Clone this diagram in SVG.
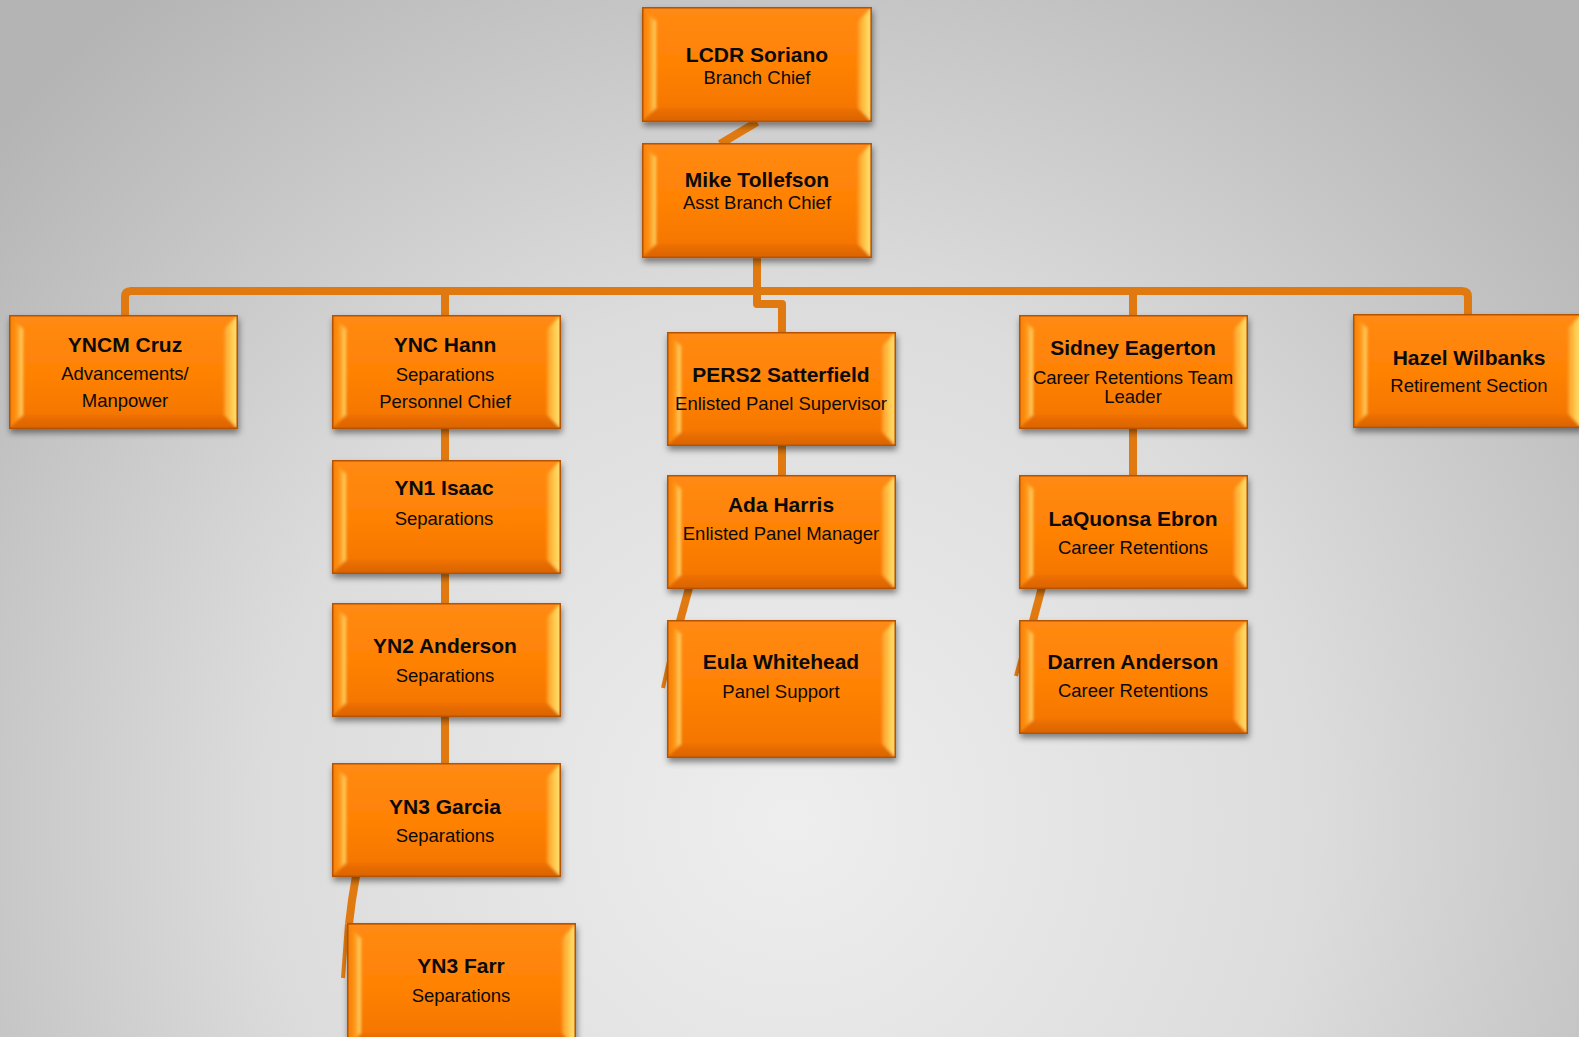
<svg xmlns="http://www.w3.org/2000/svg" xmlns:xlink="http://www.w3.org/1999/xlink" width="1579" height="1037" viewBox="0 0 1579 1037">
<defs>
<radialGradient id="bg" cx="790" cy="820" r="1050" gradientUnits="userSpaceOnUse">
<stop offset="0" stop-color="#EEEEEE"/>
<stop offset="0.5" stop-color="#DCDCDC"/>
<stop offset="1" stop-color="#B4B4B4"/>
</radialGradient>
<linearGradient id="gFace" x1="0" y1="0" x2="0" y2="1">
<stop offset="0" stop-color="#FF8A14"/>
<stop offset="0.5" stop-color="#FF8204"/>
<stop offset="1" stop-color="#F27300"/>
</linearGradient>
<linearGradient id="gLeft" x1="0" y1="0" x2="1" y2="0">
<stop offset="0" stop-color="#F57A00"/>
<stop offset="0.55" stop-color="#FF9418"/>
<stop offset="0.85" stop-color="#FFC24C"/>
<stop offset="1" stop-color="#FFDA70"/>
</linearGradient>
<linearGradient id="gRight" x1="0" y1="0" x2="1" y2="0">
<stop offset="0" stop-color="#FF9A22"/>
<stop offset="0.5" stop-color="#FFC84A"/>
<stop offset="1" stop-color="#FFE47A"/>
</linearGradient>
<linearGradient id="gBot" x1="0" y1="0" x2="0" y2="1">
<stop offset="0" stop-color="#EE7000"/>
<stop offset="1" stop-color="#D86200"/>
</linearGradient>
<filter id="sh" x="-10%" y="-10%" width="125%" height="135%">
<feDropShadow dx="1" dy="4" stdDeviation="3" flood-color="#000" flood-opacity="0.45"/>
</filter>
<filter id="soft" x="-5%" y="-5%" width="110%" height="110%">
<feGaussianBlur stdDeviation="1.4"/>
</filter>
<clipPath id="cb"><rect x="0" y="0" width="229" height="114"/></clipPath>
<clipPath id="cbt"><rect x="0" y="0" width="229" height="138"/></clipPath>
<g id="box">
<rect x="0" y="0" width="229" height="114" fill="url(#gFace)"/>
<g clip-path="url(#cb)"><g filter="url(#soft)">
<polygon points="0,0 14,14 14,100 0,114" fill="url(#gLeft)"/>
<polygon points="229,0 229,114 215,100 215,14" fill="url(#gRight)"/>
<polygon points="0,114 14,100 215,100 229,114" fill="url(#gBot)"/>
</g></g>
<rect x="0.75" y="0.75" width="227.5" height="112.5" fill="none" stroke="#B65200" stroke-width="1.5"/>
</g>
<g id="boxTall">
<rect x="0" y="0" width="229" height="138" fill="url(#gFace)"/>
<g clip-path="url(#cbt)"><g filter="url(#soft)">
<polygon points="0,0 14,14 14,124 0,138" fill="url(#gLeft)"/>
<polygon points="229,0 229,138 215,124 215,14" fill="url(#gRight)"/>
<polygon points="0,138 14,124 215,124 229,138" fill="url(#gBot)"/>
</g></g>
<rect x="0.75" y="0.75" width="227.5" height="136.5" fill="none" stroke="#B65200" stroke-width="1.5"/>
</g>
</defs>
<style>
.t{font-family:"Liberation Sans",Arial,sans-serif;font-weight:bold;font-size:21px;fill:#0A0A0A;text-anchor:middle}
.s{font-family:"Liberation Sans",Arial,sans-serif;font-size:18.5px;fill:#0A0A0A;text-anchor:middle}
.c{fill:none;stroke:#E07A10;stroke-width:8;stroke-linejoin:round}
.ct{fill:none;stroke:#E07A10;stroke-width:4}
</style>
<rect x="0" y="0" width="1579" height="1037" fill="url(#bg)"/>

<g id="connectors">
<line class="c" x1="757" y1="122" x2="720" y2="144"/>
<line class="c" x1="757" y1="258" x2="757" y2="292"/>
<path class="c" d="M125,316 V297 Q125,291 131,291 H1462 Q1468,291 1468,297 V315"/>
<line class="c" x1="445" y1="291" x2="445" y2="316"/>
<line class="c" x1="1133" y1="291" x2="1133" y2="316"/>
<path class="c" d="M757,291 V304 H782 V333"/>
<line class="c" x1="445" y1="429" x2="445" y2="461"/>
<line class="c" x1="445" y1="574" x2="445" y2="604"/>
<line class="c" x1="445" y1="717" x2="445" y2="764"/>
<polyline class="c" points="356,876 352,900 349,924"/>
<line class="ct" x1="347" y1="924" x2="343" y2="978"/>
<line class="c" x1="782" y1="445" x2="782" y2="476"/>
<line class="c" x1="689" y1="588" x2="680" y2="621"/>
<line class="ct" x1="678" y1="621" x2="663" y2="688"/>
<line class="c" x1="1133" y1="428" x2="1133" y2="476"/>
<line class="c" x1="1042" y1="587" x2="1033" y2="621"/>
<line class="ct" x1="1031" y1="621" x2="1016" y2="676"/>
</g>

<g id="n-soriano">
<use xlink:href="#box" href="#box" transform="translate(642,7) scale(1.004,1.009)" filter="url(#sh)"/>
<text class="t" x="757" y="62">LCDR Soriano</text>
<text class="s" x="757" y="84">Branch Chief</text>
</g>
<g id="n-tollefson">
<use xlink:href="#box" href="#box" transform="translate(642,143) scale(1.004,1.009)" filter="url(#sh)"/>
<text class="t" x="757" y="187">Mike Tollefson</text>
<text class="s" x="757" y="209">Asst Branch Chief</text>
</g>
<g id="n-cruz">
<use xlink:href="#box" href="#box" transform="translate(9,315)" filter="url(#sh)"/>
<text class="t" x="125" y="352">YNCM Cruz</text>
<text class="s" x="125" y="380">Advancements/</text>
<text class="s" x="125" y="407">Manpower</text>
</g>
<g id="n-hann">
<use xlink:href="#box" href="#box" transform="translate(332,315)" filter="url(#sh)"/>
<text class="t" x="445" y="352">YNC Hann</text>
<text class="s" x="445" y="381">Separations</text>
<text class="s" x="445" y="408">Personnel Chief</text>
</g>
<g id="n-isaac">
<use xlink:href="#box" href="#box" transform="translate(332,460)" filter="url(#sh)"/>
<text class="t" x="444" y="495">YN1 Isaac</text>
<text class="s" x="444" y="525">Separations</text>
</g>
<g id="n-yn2anderson">
<use xlink:href="#box" href="#box" transform="translate(332,603)" filter="url(#sh)"/>
<text class="t" x="445" y="653">YN2 Anderson</text>
<text class="s" x="445" y="682">Separations</text>
</g>
<g id="n-garcia">
<use xlink:href="#box" href="#box" transform="translate(332,763)" filter="url(#sh)"/>
<text class="t" x="445" y="814">YN3 Garcia</text>
<text class="s" x="445" y="842">Separations</text>
</g>
<g id="n-farr">
<use xlink:href="#box" href="#box" transform="translate(347,923) scale(1,1.1)" filter="url(#sh)"/>
<text class="t" x="461" y="973">YN3 Farr</text>
<text class="s" x="461" y="1002">Separations</text>
</g>
<g id="n-satterfield">
<use xlink:href="#box" href="#box" transform="translate(667,332)" filter="url(#sh)"/>
<text class="t" x="781" y="382">PERS2 Satterfield</text>
<text class="s" x="781" y="410">Enlisted Panel Supervisor</text>
</g>
<g id="n-harris">
<use xlink:href="#box" href="#box" transform="translate(667,475)" filter="url(#sh)"/>
<text class="t" x="781" y="512">Ada Harris</text>
<text class="s" x="781" y="540">Enlisted Panel Manager</text>
</g>
<g id="n-whitehead">
<use xlink:href="#boxTall" href="#boxTall" transform="translate(667,620)" filter="url(#sh)"/>
<text class="t" x="781" y="669">Eula Whitehead</text>
<text class="s" x="781" y="698">Panel Support</text>
</g>
<g id="n-eagerton">
<use xlink:href="#box" href="#box" transform="translate(1019,315)" filter="url(#sh)"/>
<text class="t" x="1133" y="355">Sidney Eagerton</text>
<text class="s" x="1133" y="384">Career Retentions Team</text>
<text class="s" x="1133" y="403">Leader</text>
</g>
<g id="n-ebron">
<use xlink:href="#box" href="#box" transform="translate(1019,475)" filter="url(#sh)"/>
<text class="t" x="1133" y="526">LaQuonsa Ebron</text>
<text class="s" x="1133" y="554">Career Retentions</text>
</g>
<g id="n-danderson">
<use xlink:href="#box" href="#box" transform="translate(1019,620)" filter="url(#sh)"/>
<text class="t" x="1133" y="669">Darren Anderson</text>
<text class="s" x="1133" y="697">Career Retentions</text>
</g>
<g id="n-wilbanks">
<use xlink:href="#box" href="#box" transform="translate(1353,314)" filter="url(#sh)"/>
<text class="t" x="1469" y="365">Hazel Wilbanks</text>
<text class="s" x="1469" y="392">Retirement Section</text>
</g>
</svg>
